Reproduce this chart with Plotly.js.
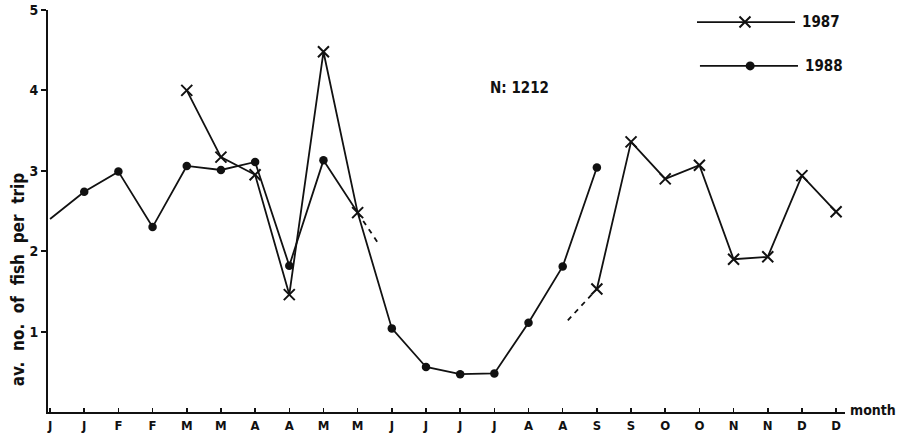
<!DOCTYPE html>
<html>
<head>
<meta charset="utf-8">
<script src="https://cdn.plot.ly/plotly-3.0.1.min.js"></script>
<style>html,body{margin:0;padding:0;background:#fff;}#chart{width:904px;height:443px;}</style>
</head>
<body>
<div id="chart"></div>
<script>
// Half-month categories (two ticks per month)
const monthLabels = ["J","J","F","F","M","M","A","A","M","M","J","J","J","J","A","A","S","S","O","O","N","N","D","D"];
const idx = monthLabels.map((_, i) => i);

// av. no. of fish per trip
const y1987 = [null,null,null,null,4.00,3.17,2.95,1.46,4.48,2.48,null,null,null,null,null,null,1.53,3.36,2.90,3.07,1.90,1.93,2.94,2.49];
const y1988 = [2.40,2.74,2.99,2.30,3.06,3.01,3.11,1.82,3.13,2.48,1.04,0.56,0.47,0.48,1.11,1.81,3.04,null,null,null,null,null,null,null];

// dashed (interpolated) pieces of 1987
const dashA_x = [9, 9.6];
const dashA_y = [2.48, 2.10];
const dashB_x = [15.15, 16];
const dashB_y = [1.14, 1.53];

const nLabel = "N: 1212";
const seriesNames = ["1987", "1988"];

const ink = "#111";
const fontFam = "DejaVu Sans Condensed, Liberation Sans Narrow, sans-serif";

const dotSizes = y1988.map((v, i) => (i === 0 || i === 9) ? 0 : 8.5);

const traces = [
  {x: idx, y: y1988, type: "scatter", mode: "lines+markers", name: seriesNames[1],
   line: {color: ink, width: 1.8}, marker: {symbol: "circle", size: dotSizes, color: ink, opacity: 1, line: {width: 0}},
   connectgaps: false, showlegend: false, hoverinfo: "skip"},
  {x: idx, y: y1987, type: "scatter", mode: "lines+markers", name: seriesNames[0],
   line: {color: ink, width: 1.8},
   marker: {symbol: "x-thin-open", size: 11, color: ink, opacity: 1, line: {color: ink, width: 2}},
   connectgaps: false, showlegend: false, hoverinfo: "skip"},
  {x: dashA_x, y: dashA_y, type: "scatter", mode: "lines", line: {color: ink, width: 1.8, dash: "5px,5px"}, showlegend: false, hoverinfo: "skip"},
  {x: dashB_x, y: dashB_y, type: "scatter", mode: "lines", line: {color: ink, width: 1.8, dash: "5px,5px"}, showlegend: false, hoverinfo: "skip"},
  // legend sample markers on an invisible overlay axis (0..1)
  {x: [0.8745], y: [0.970], xaxis: "x2", yaxis: "y2", type: "scatter", mode: "markers",
   marker: {symbol: "x-thin-open", size: 11, color: ink, opacity: 1, line: {color: ink, width: 2}}, showlegend: false, hoverinfo: "skip"},
  {x: [0.881], y: [0.861], xaxis: "x2", yaxis: "y2", type: "scatter", mode: "markers",
   marker: {symbol: "circle", size: 9, color: ink, opacity: 1}, showlegend: false, hoverinfo: "skip"}
];

const layout = {
  width: 904, height: 443,
  margin: {l: 48, r: 59, t: 10, b: 31},
  paper_bgcolor: "#fff", plot_bgcolor: "#fff",
  showlegend: false,
  font: {family: fontFam, color: ink},
  xaxis: {
    range: [-0.06, 23.26], tickmode: "array", tickvals: idx, ticktext: monthLabels,
    showgrid: false, zeroline: false, showline: true, linecolor: ink, linewidth: 2,
    ticks: "inside", ticklen: 4, tickwidth: 1.5, tickcolor: ink,
    tickfont: {family: fontFam, size: 13, weight: "bold", color: ink}, fixedrange: true
  },
  yaxis: {
    range: [0, 5], tickvals: [1,2,3,4,5], ticktext: ["1","2","3","4","5"],
    showgrid: false, zeroline: false, showline: true, linecolor: ink, linewidth: 2,
    ticks: "outside", ticklen: 5, tickwidth: 2, tickcolor: ink,
    tickfont: {family: fontFam, size: 14, weight: "bold", color: ink}, fixedrange: true
  },
  xaxis2: {overlaying: "x", range: [0, 1], visible: false, fixedrange: true},
  yaxis2: {overlaying: "y", range: [0, 1], visible: false, fixedrange: true},
  shapes: [
    {type: "line", xref: "paper", yref: "paper", x0: 0.8143, x1: 0.9373, y0: 0.970, y1: 0.970, line: {color: ink, width: 1.8}},
    {type: "line", xref: "paper", yref: "paper", x0: 0.818, x1: 0.941, y0: 0.861, y1: 0.861, line: {color: ink, width: 1.8}}
  ],
  annotations: [
    {text: seriesNames[0], xref: "paper", yref: "paper", x: 0.9435, y: 0.970, xanchor: "left", yanchor: "middle", showarrow: false,
     font: {family: fontFam, size: 15, weight: "bold", color: ink}},
    {text: seriesNames[1], xref: "paper", yref: "paper", x: 0.947, y: 0.861, xanchor: "left", yanchor: "middle", showarrow: false,
     font: {family: fontFam, size: 15, weight: "bold", color: ink}},
    {text: nLabel, xref: "paper", yref: "paper", x: 0.592, y: 0.806, xanchor: "center", yanchor: "middle", showarrow: false,
     font: {family: fontFam, size: 15, weight: "bold", color: ink}},
    {text: "month", xref: "paper", yref: "paper", x: 1, y: 0, xanchor: "left", yanchor: "middle", xshift: 3, yshift: 2, showarrow: false,
     font: {family: fontFam, size: 14, weight: "bold", color: ink}},
    {text: "av.  no.  of  fish  per  trip", xref: "paper", yref: "paper", x: 0, y: 0.33, xanchor: "center", yanchor: "middle",
     xshift: -30, textangle: -90, showarrow: false,
     font: {family: fontFam, size: 17, weight: "bold", color: ink}}
  ]
};

Plotly.newPlot("chart", traces, layout, {displayModeBar: false, staticPlot: true});
</script>
</body>
</html>
